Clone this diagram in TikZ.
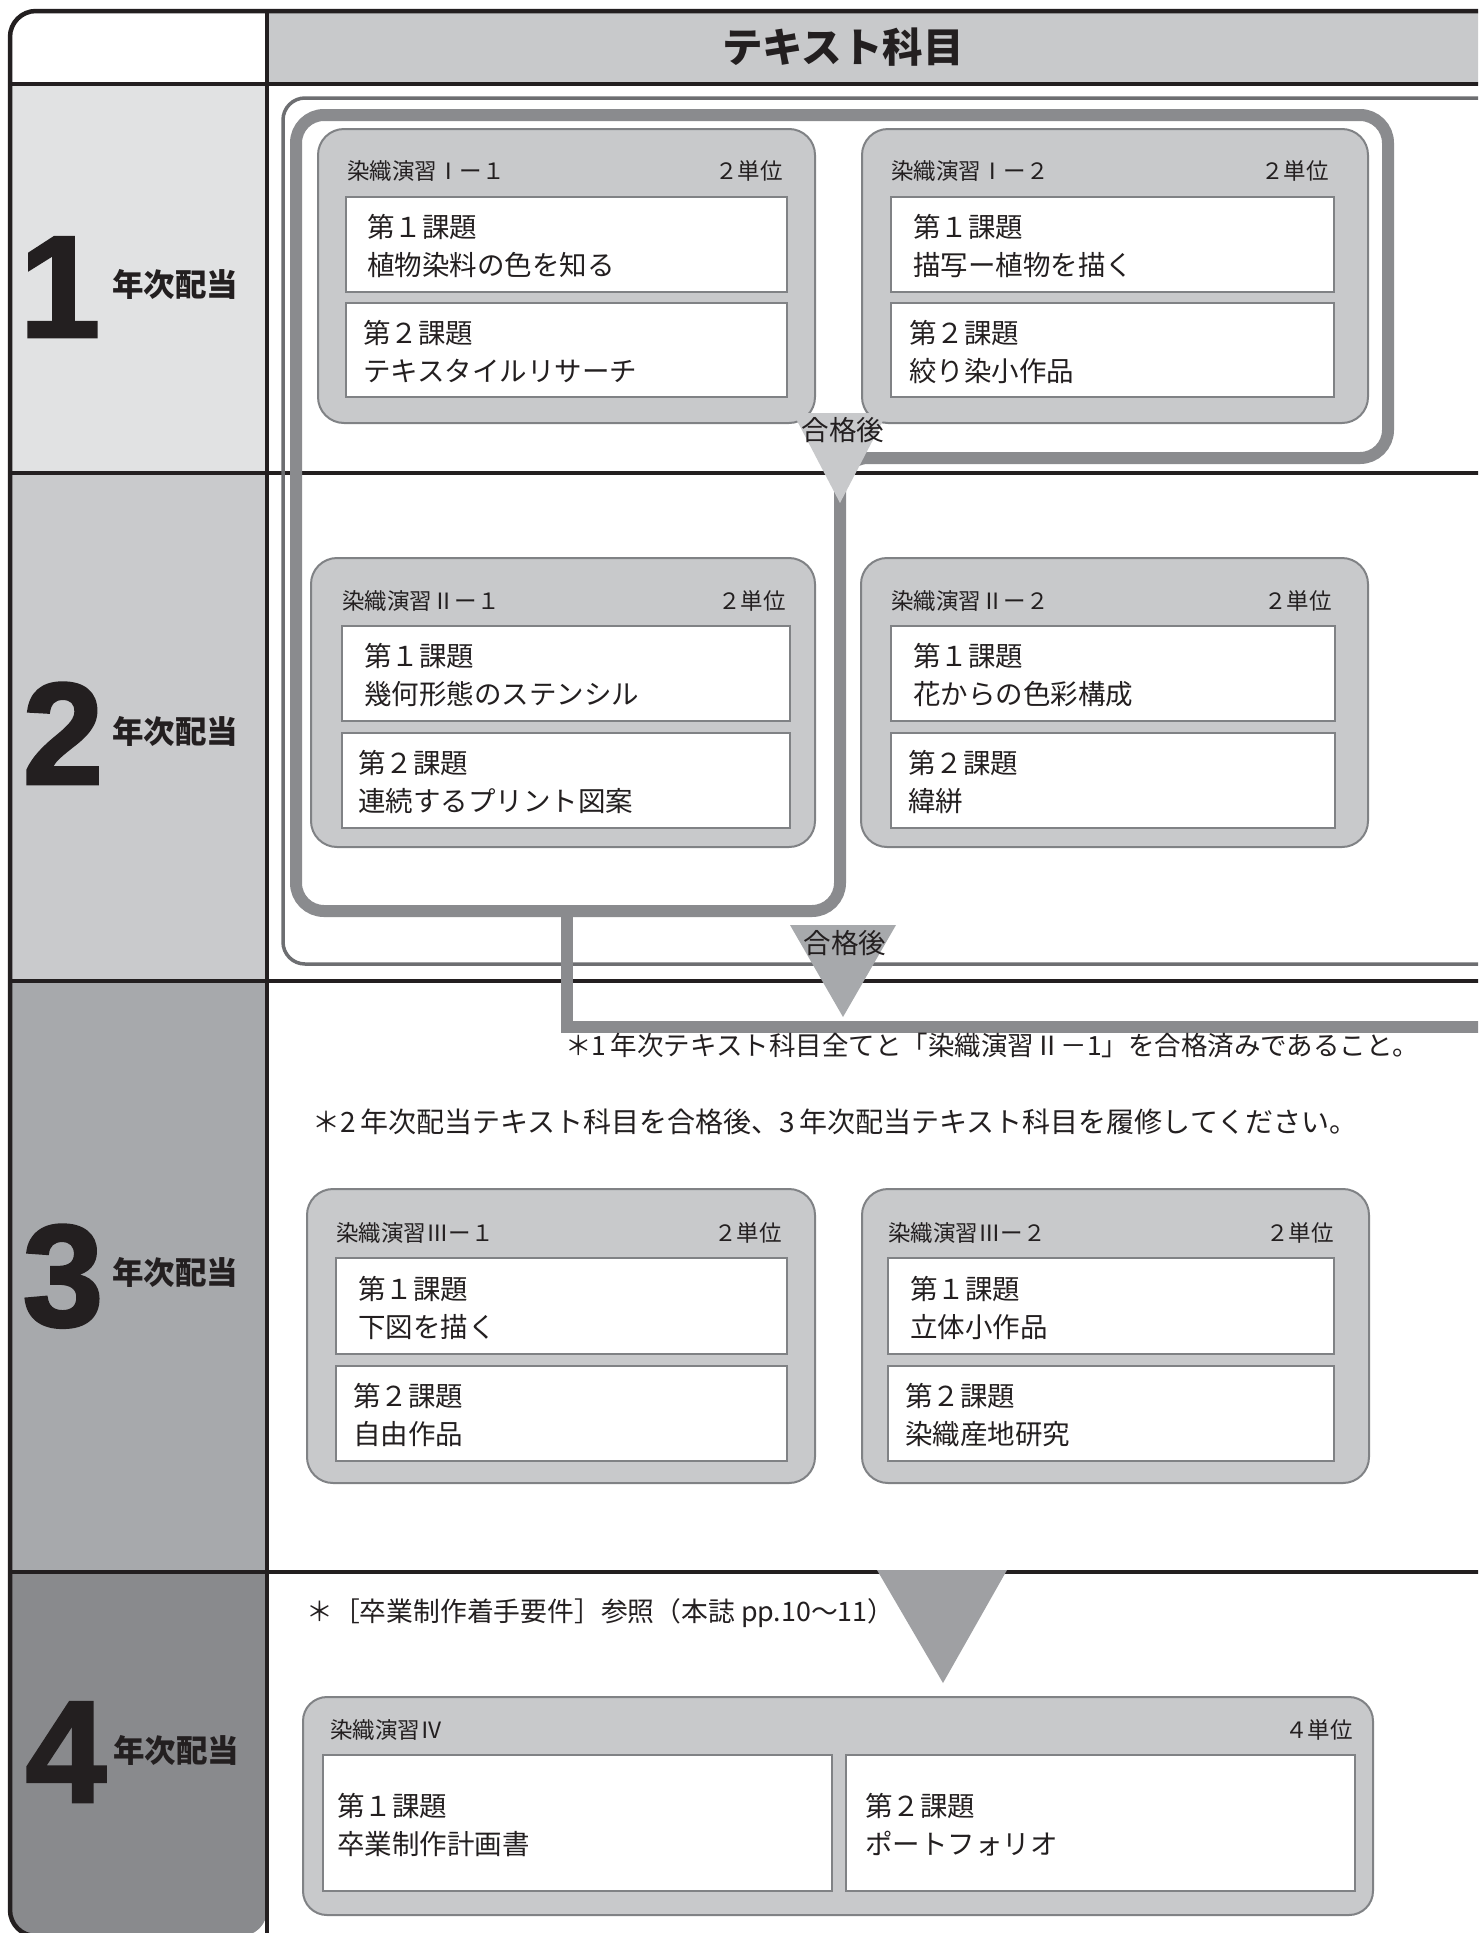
\documentclass[tikz,border=0pt]{standalone}
\usepackage{fontspec}
\newfontfamily\jp{Noto Sans CJK JP}
\newfontfamily\digitfont{Liberation Sans}[FakeBold=2]
\definecolor{ink}{HTML}{231F20}
\definecolor{hdrfill}{HTML}{C8C9CB}
\definecolor{rowA}{HTML}{E1E2E3}
\definecolor{rowB}{HTML}{C9CACC}
\definecolor{rowC}{HTML}{A7A9AC}
\definecolor{rowD}{HTML}{898A8D}
\definecolor{boxfill}{HTML}{C8C9CB}
\definecolor{boxline}{HTML}{808285}
\definecolor{bandgray}{HTML}{8A8B8E}
\definecolor{framegray}{HTML}{6D6E71}
\definecolor{triA}{HTML}{C8C9CB}
\definecolor{triB}{HTML}{A7A9AC}
\definecolor{triC}{HTML}{9FA0A3}
\tikzset{
  rulel/.style={line width=4.5pt, draw=ink},
  thinframe/.style={line width=3.5pt, draw=framegray},
  band/.style={line width=12pt, draw=bandgray, line join=miter},
  coursebox/.style={draw=boxline, line width=2pt, fill=boxfill, rounded corners=26pt, inner sep=0pt, outer sep=0pt},
  taskbox/.style={draw=boxline, line width=2.5pt, fill=white, inner sep=0pt, outer sep=0pt},
  tasktxt/.style={font=\jp\fontsize{27.5pt}{33pt}\selectfont, text=ink, inner sep=0pt, anchor=west, text height=23pt, text depth=2pt},
  headtxt/.style={font=\jp\fontsize{22.5pt}{27pt}\selectfont, text=ink, inner sep=0pt, text height=19pt, text depth=1.6pt},
  notetxt/.style={font=\jp\fontsize{26.5pt}{32pt}\selectfont, text=ink, inner sep=0pt, anchor=west, text height=22pt, text depth=2pt},
  passtxt/.style={font=\jp\fontsize{27.5pt}{33pt}\selectfont, text=ink, inner sep=0pt, text height=23pt, text depth=2pt},
  bigdigit/.style={font=\digitfont\bfseries\fontsize{145pt}{145pt}\selectfont, text=ink, inner sep=0pt, anchor=base},
  yeartxt/.style={font=\jp\bfseries\fontsize{31.5pt}{36pt}\selectfont, text=ink, inner sep=0pt, anchor=west, text height=26pt, text depth=2.5pt},
}
% course box: name x1 y1 x2 y2
\newcommand\CBox[5]{\node[coursebox, minimum width={(#4-#2)*1pt}, minimum height={(#5-#3)*1pt}] (#1) at ({(#2+#4)/2},{(#3+#5)/2}) {};}
% task box: name x1 y1 x2 y2 inset line1 line2
\newcommand\TBox[8]{%
  \node[taskbox, minimum width={(#4-#2)*1pt}, minimum height={(#5-#3)*1pt}] (#1) at ({(#2+#4)/2},{(#3+#5)/2}) {};
  \node[tasktxt] (#1a) at ({#2+#6},{(#3+#5)/2-17.5}) {#7};
  \node[tasktxt] (#1b) at ({#2+#6},{(#3+#5)/2+20.5}) {#8};}
\begin{document}
\begin{tikzpicture}[x=1pt,y=-1pt]
\useasboundingbox (0,0) rectangle (1478,1933);
\clip (0,0) rectangle (1478,1933);
\fill[white] (0,0) rectangle (1478,1933);
% ---- table fills
\fill[hdrfill] (267,11) rectangle (1500,84);
\fill[rowA] (10,84) rectangle (267,473);
\fill[rowB] (10,473) rectangle (267,981);
\fill[rowC] (10,981) rectangle (267,1572);
\fill[rowD] (10,1572) [rounded corners=26pt] -- (10,1936) -- (267,1936) [sharp corners] -- (267,1572) -- cycle;
% ---- table rules
\draw[rulel] (10,84) -- (1500,84);
\draw[rulel] (10,473) -- (1500,473);
\draw[rulel] (10,981) -- (1500,981);
\draw[rulel] (10,1572) -- (1500,1572);
\draw[rulel] (267,11) -- (267,1936);
\draw[rulel, rounded corners=26pt] (1500,11) -- (10,11) -- (10,1936) -- (1500,1936);
% ---- header
\node[font=\jp\bfseries\fontsize{40.5pt}{48pt}\selectfont, text=ink, inner sep=0pt] (title) at (843,47) {テキスト科目};
% ---- year labels
\node[bigdigit] (d1) at (60,337) {1};
\node[yeartxt] (y1) at (112,285) {年次配当};
\node[bigdigit] (d2) at (63,784) {2};
\node[yeartxt] (y2) at (112,732) {年次配当};
\node[bigdigit] (d3) at (63,1326) {3};
\node[yeartxt] (y3) at (112,1273) {年次配当};
\node[bigdigit] (d4) at (66,1802) {4};
\node[yeartxt] (y4) at (113,1751) {年次配当};
% ---- group frame and pass loop
\draw[thinframe, rounded corners=22pt] (1500,98) -- (283,98) -- (283,964) -- (1500,964);
\draw[band, rounded corners=28pt] (296,500) -- (296,115) -- (1388,115) -- (1388,458) -- (840,458) -- (840,911) -- (296,911) -- cycle;
\draw[band] (567,911) -- (567,1027) -- (1500,1027);
% ---- year 1
\CBox{c11}{318}{129}{815}{423}
\CBox{c12}{862}{129}{1368}{423}
\node[headtxt, anchor=west] (h11) at (347,171) {染織演習Ⅰー１};
\node[headtxt, anchor=east] (u11) at (783,171) {２単位};
\node[headtxt, anchor=west] (h12) at (891,171) {染織演習Ⅰー２};
\node[headtxt, anchor=east] (u12) at (1329,171) {２単位};
\TBox{t111}{346}{197}{787}{292}{21}{第１課題}{植物染料の色を知る}
\TBox{t112}{346}{303}{787}{397}{17}{第２課題}{テキスタイルリサーチ}
\TBox{t121}{891}{197}{1334}{292}{22}{第１課題}{描写ー植物を描く}
\TBox{t122}{891}{303}{1334}{397}{18}{第２課題}{絞り染小作品}
% ---- year 2
\CBox{c21}{311}{558}{815}{847}
\CBox{c22}{861}{558}{1368}{847}
\node[headtxt, anchor=west] (h21) at (342,601) {染織演習Ⅱー１};
\node[headtxt, anchor=east] (u21) at (786,601) {２単位};
\node[headtxt, anchor=west] (h22) at (891,601) {染織演習Ⅱー２};
\node[headtxt, anchor=east] (u22) at (1332,601) {２単位};
\TBox{t211}{342}{626}{790}{721}{22}{第１課題}{幾何形態のステンシル}
\TBox{t212}{342}{733}{790}{828}{16}{第２課題}{連続するプリント図案}
\TBox{t221}{891}{626}{1335}{721}{22}{第１課題}{花からの色彩構成}
\TBox{t222}{891}{733}{1335}{828}{17}{第２課題}{緯絣}
% ---- year 3
\CBox{c31}{307}{1189}{815}{1483}
\CBox{c32}{862}{1189}{1369}{1483}
\node[headtxt, anchor=west] (h31) at (336,1233) {染織演習Ⅲー１};
\node[headtxt, anchor=east] (u31) at (782,1233) {２単位};
\node[headtxt, anchor=west] (h32) at (888,1233) {染織演習Ⅲー２};
\node[headtxt, anchor=east] (u32) at (1334,1233) {２単位};
\TBox{t311}{336}{1258}{787}{1354}{22}{第１課題}{下図を描く}
\TBox{t312}{336}{1366}{787}{1461}{17}{第２課題}{自由作品}
\TBox{t321}{888}{1258}{1334}{1354}{22}{第１課題}{立体小作品}
\TBox{t322}{888}{1366}{1334}{1461}{17}{第２課題}{染織産地研究}
% ---- year 4
\node[coursebox, rounded corners=24pt, minimum width=1070pt, minimum height=218pt] (c4) at (838,1806) {};
\node[headtxt, anchor=west] (h4) at (330,1730) {染織演習Ⅳ};
\node[headtxt, anchor=east] (u4) at (1353,1730) {４単位};
\TBox{t41}{323}{1755}{832}{1891}{14}{第１課題}{卒業制作計画書}
\TBox{t42}{846}{1755}{1355}{1891}{19}{第２課題}{ポートフォリオ}
% ---- pass triangles
\fill[triA] (793,413) -- (887,413) -- (840,503) -- cycle;
\node[passtxt] (p1) at (843,430) {合格後};
\fill[triB] (790,925) -- (896,925) -- (843,1017) -- cycle;
\node[passtxt] (p2) at (845,943) {合格後};
\fill[triC] (877,1570) -- (1007,1570) -- (943,1683) -- cycle;
% ---- notes
\node[notetxt] (n1) at (565,1045) {＊1\,年次テキスト科目全てと「染織演習Ⅱ－1」を合格済みであること。};
\node[notetxt, font=\jp\fontsize{28pt}{33pt}\selectfont] (n2) at (312,1122) {＊2\,年次配当テキスト科目を合格後、3\,年次配当テキスト科目を履修してください。};
\node[notetxt, font=\jp\fontsize{26.8pt}{32pt}\selectfont] (n3) at (306,1611) {＊［卒業制作着手要件］参照（本誌 pp.10〜11）};
\end{tikzpicture}
\end{document}
